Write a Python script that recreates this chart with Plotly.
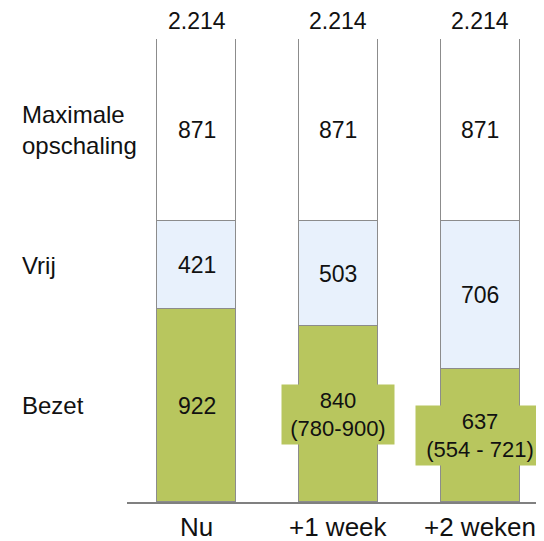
import plotly.graph_objects as go

categories = ["Nu", "+1 week", "+2 weken"]
bezet = [922, 840, 637]
vrij = [421, 503, 706]
maximale = [871, 871, 871]
bezet_ranges = ["", "(780-900)", "(554 - 721)"]
series_names = ["Bezet", "Vrij", "Maximale<br>opschaling"]

GREEN = "#b8c65e"
BLUE = "#e8f1fc"
WHITE = "#ffffff"
EDGE = "#8c8c8c"
FONT = "Arial, Liberation Sans, sans-serif"

xs = list(range(len(categories)))
totals = [b + v + m for b, v, m in zip(bezet, vrij, maximale)]

fig = go.Figure()
for vals, col, name in [(bezet, GREEN, series_names[0]), (vrij, BLUE, series_names[1]),
                        (maximale, WHITE, series_names[2])]:
    fig.add_trace(go.Bar(x=xs, y=vals, marker=dict(color=col, line=dict(color=EDGE, width=1)),
                         width=0.557, name=name, showlegend=False, hoverinfo="skip"))

ann = []
for i in xs:
    b, v, m = bezet[i], vrij[i], maximale[i]
    ann.append(dict(x=i, y=totals[i], text=f"{totals[i]:,}".replace(",", "."), showarrow=False,
                    xref="x", yref="y", yanchor="middle", yshift=18, font=dict(size=23)))
    ann.append(dict(x=i, y=b + v + m / 2, text=str(m), showarrow=False, xref="x", yref="y",
                    font=dict(size=23)))
    ann.append(dict(x=i, y=b + v / 2, text=str(v), showarrow=False, xref="x", yref="y",
                    font=dict(size=23)))
    if bezet_ranges[i]:
        w = 110 if i == 1 else 126
        ann.append(dict(x=i, y=b / 2, text=f"{b}<br>{bezet_ranges[i]}", showarrow=False,
                        xref="x", yref="y", font=dict(size=22), bgcolor=GREEN,
                        width=w, height=57, borderpad=1))
    else:
        ann.append(dict(x=i, y=b / 2, text=str(b), showarrow=False, xref="x", yref="y",
                        font=dict(size=23)))
    ann.append(dict(x=i, y=0, text=categories[i], showarrow=False, xref="x", yref="paper",
                    yanchor="middle", yshift=-25, font=dict(size=26)))

mids = [bezet[0] / 2, bezet[0] + vrij[0] / 2, bezet[0] + vrij[0] + maximale[0] / 2]
for name, y in zip(series_names, mids):
    ann.append(dict(x=-0.2566, y=y, text=name, showarrow=False, xref="paper", yref="y",
                    xanchor="left", align="left", font=dict(size=24)))

fig.update_layout(
    width=544, height=541,
    margin=dict(l=119, r=8, t=31, b=47),
    barmode="stack", bargap=0,
    plot_bgcolor="white", paper_bgcolor="white",
    font=dict(family=FONT, color="#111111"),
    annotations=ann,
    xaxis=dict(range=[-0.49, 2.45], showgrid=False, zeroline=False, showticklabels=False,
               showline=True, linecolor="#808080", linewidth=2, ticks=""),
    yaxis=dict(range=[0, max(totals)], visible=False),
)

fig.write_html("out.html")
